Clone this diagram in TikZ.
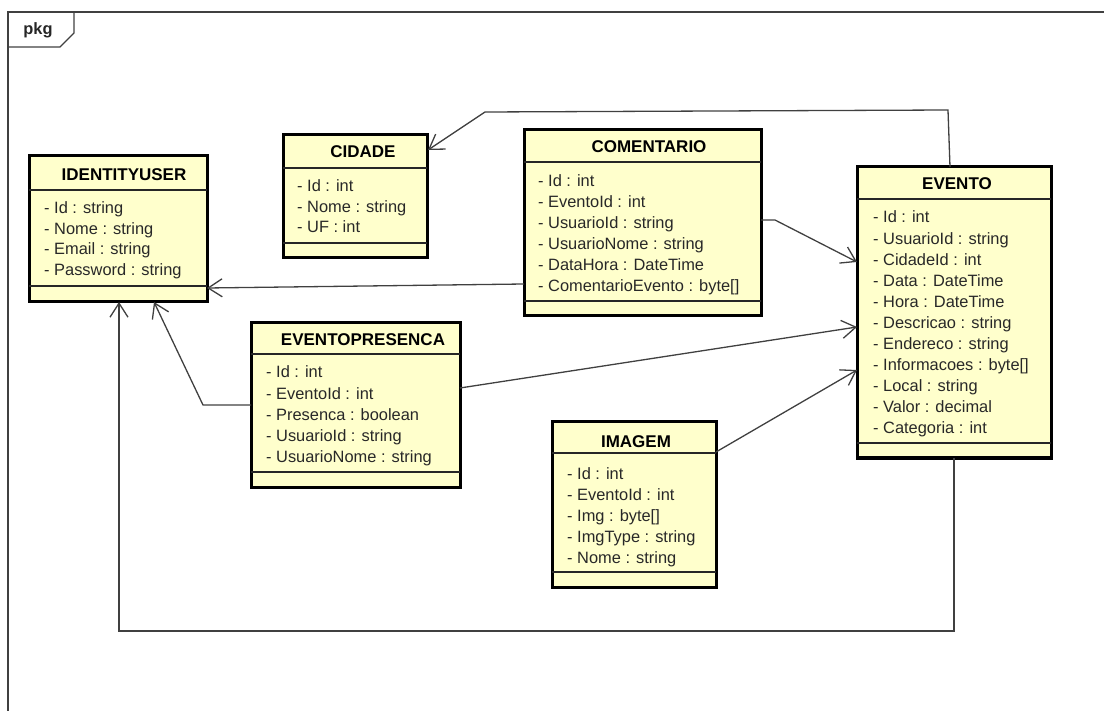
\documentclass[tikz,border=0pt]{standalone}
\usepackage{fontspec}
\setmainfont{Liberation Sans}
\usetikzlibrary{arrows.meta,calc}
\definecolor{classfill}{RGB}{255,255,204}
\definecolor{linegray}{RGB}{64,64,64}
\definecolor{textgray}{RGB}{40,40,40}
\newcommand{\umlattrs}[5]{%
  \foreach \t [count=\i] in {#5}{%
    \node[attr] (#1\i) at (#2, {#3+6+(\i-1)*#4}) {\t};}}
\begin{document}
\begin{tikzpicture}[x=1pt,y=-1pt,
  classbox/.style={draw=black,line width=3pt,fill=classfill,rectangle,
    anchor=north west,inner sep=0pt,outer sep=0pt},
  sep/.style={draw=black!85,line width=1.5pt},
  title/.style={anchor=base,inner sep=0pt,font=\fontsize{17}{20}\selectfont\bfseries,text=black},
  attr/.style={anchor=base west,inner sep=0pt,font=\fontsize{16.4}{20}\selectfont,text=textgray},
  assoc/.style={draw=linegray,line width=1.3pt,-{Straight Barb[length=14pt,width=18pt]}},
  frame/.style={draw=linegray,line width=1.1pt}]
\useasboundingbox (0,0) rectangle (1104,711);
% package frame
\draw[frame] (1104,12) -- (8,12) -- (8,711);
\draw[frame] (8,47) -- (60,47) -- (74,33) -- (74,12);
\node[anchor=base,inner sep=0pt,font=\fontsize{16.4}{20}\selectfont\bfseries,text=black!85] (pkg) at (38,35) {pkg};

% IDENTITYUSER
\node[classbox,minimum width=178pt,minimum height=146pt] (iu) at (29,156) {};
\draw[sep] ($(iu.north west)+(0,34)$) -- ($(iu.north east)+(0,34)$);
\draw[sep] ($(iu.north west)+(0,130)$) -- ($(iu.north east)+(0,130)$);
\node[title] (iut) at (124,181) {IDENTITYUSER};
\umlattrs{iua}{44}{208}{20.5}{- Id : string,- Nome : string,- Email : string,- Password : string}

% CIDADE
\node[classbox,minimum width=144pt,minimum height=123pt] (cid) at (283,135) {};
\draw[sep] ($(cid.north west)+(0,33)$) -- ($(cid.north east)+(0,33)$);
\draw[sep] ($(cid.north west)+(0,108)$) -- ($(cid.north east)+(0,108)$);
\node[title] (cidt) at (363,158) {CIDADE};
\umlattrs{cida}{297}{186}{20.3}{- Id : int,- Nome : string,- UF : int}

% COMENTARIO
\node[classbox,minimum width=237pt,minimum height=186pt] (com) at (524,130) {};
\draw[sep] ($(com.north west)+(0,32)$) -- ($(com.north east)+(0,32)$);
\draw[sep] ($(com.north west)+(0,171)$) -- ($(com.north east)+(0,171)$);
\node[title] (comt) at (649,153) {COMENTARIO};
\umlattrs{coma}{538}{181}{21}{- Id : int,- EventoId : int,- UsuarioId : string,- UsuarioNome : string,- DataHora : DateTime,- ComentarioEvento : byte[]}

% EVENTO
\node[classbox,minimum width=194pt,minimum height=291pt] (ev) at (857,167) {};
\draw[sep] ($(ev.north west)+(0,32)$) -- ($(ev.north east)+(0,32)$);
\draw[sep] ($(ev.north west)+(0,276)$) -- ($(ev.north east)+(0,276)$);
\node[title] (evt) at (957,190) {EVENTO};
\umlattrs{eva}{873}{217}{21.1}{- Id : int,- UsuarioId : string,- CidadeId : int,- Data : DateTime,- Hora : DateTime,- Descricao : string,- Endereco : string,- Informacoes : byte[],- Local : string,- Valor : decimal,- Categoria : int}

% EVENTOPRESENCA
\node[classbox,minimum width=209pt,minimum height=164pt] (ep) at (251,323) {};
\draw[sep] ($(ep.north west)+(0,31)$) -- ($(ep.north east)+(0,31)$);
\draw[sep] ($(ep.north west)+(0,149)$) -- ($(ep.north east)+(0,149)$);
\node[title] (ept) at (363,346) {EVENTOPRESENCA};
\umlattrs{epa}{266}{372}{21.2}{- Id : int,- EventoId : int,- Presenca : boolean,- UsuarioId : string,- UsuarioNome : string}

% IMAGEM
\node[classbox,minimum width=164pt,minimum height=165pt] (img) at (552,422) {};
\draw[sep] ($(img.north west)+(0,31)$) -- ($(img.north east)+(0,31)$);
\draw[sep] ($(img.north west)+(0,150)$) -- ($(img.north east)+(0,150)$);
\node[title] (imgt) at (636,447) {IMAGEM};
\umlattrs{imga}{567}{473}{21.1}{- Id : int,- EventoId : int,- Img : byte[],- ImgType : string,- Nome : string}

% connectors
\draw[assoc] ($(ev.north west)+(93,0)$) -- ($(ev.north west)+(91,-57)$) -- ($(cid.north east)+(58,-23)$) -- ($(cid.north east)+(1,15)$);
\draw[assoc] ($(com.north east)+(0,90)$) -- ($(com.north east)+(14,90)$) -- ($(ev.north west)+(0,95)$);
\draw[assoc] ($(com.north west)+(0,154)$) -- ($(iu.north east)+(0,132)$);
\draw[assoc] ($(ep.north east)+(0,65)$) -- ($(ev.north west)+(0,160)$);
\draw[assoc] ($(ep.north west)+(0,82)$) -- ($(ep.north west)+(-48,82)$) -- ($(iu.south west)+(125,0)$);
\draw[assoc] ($(img.north east)+(0,30)$) -- ($(ev.north west)+(0,203)$);
\draw[assoc] ($(ev.south west)+(97,0)$) -- ++(0,173) -| ($(iu.south west)+(90,0)$);
\end{tikzpicture}
\end{document}
